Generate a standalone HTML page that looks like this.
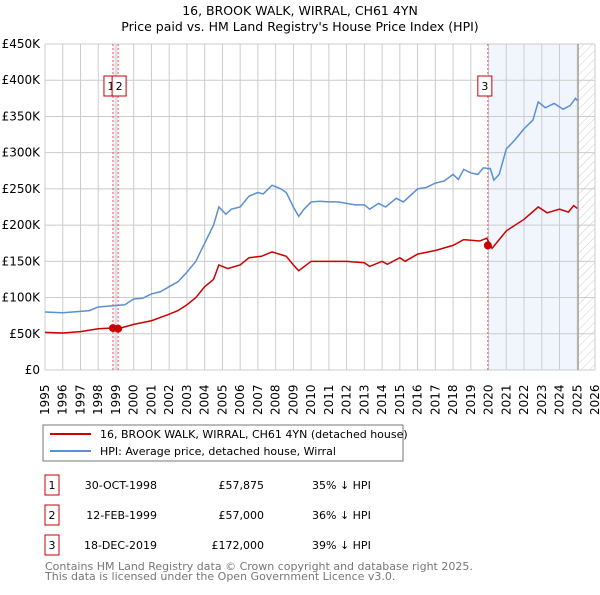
<!DOCTYPE html>
<html><head><meta charset="utf-8"><style>
body{margin:0;background:#fff;font-family:"Liberation Sans","DejaVu Sans",sans-serif;}
svg text{font-family:"DejaVu Sans","Liberation Sans",sans-serif;}
</style></head><body>
<svg id="c" width="600" height="590" xmlns="http://www.w3.org/2000/svg">
<defs><pattern id="hatch" width="6" height="6" patternUnits="userSpaceOnUse" patternTransform="rotate(45)"><line x1="0" y1="0" x2="0" y2="6" stroke="#ccc" stroke-width="1"/></pattern></defs>
<text x="300" y="15" text-anchor="middle" font-size="12.5">16, BROOK WALK, WIRRAL, CH61 4YN</text>
<text x="300" y="31" text-anchor="middle" font-size="12.5">Price paid vs. HM Land Registry's House Price Index (HPI)</text>
<g id="plot"></g>
<rect x="43" y="425" width="360" height="36" fill="#fff" stroke="#777"/>
<line x1="50" y1="434" x2="91" y2="434" stroke="#cc0000" stroke-width="2"/>
<text x="100" y="438" font-size="11">16, BROOK WALK, WIRRAL, CH61 4YN (detached house)</text>
<line x1="50" y1="451" x2="91" y2="451" stroke="#5b8fd4" stroke-width="2"/>
<text x="100" y="455" font-size="11">HPI: Average price, detached house, Wirral</text>
<g font-size="11">
<rect x="45" y="475" width="14" height="20" fill="none" stroke="#cc0000"/><text x="52" y="489" text-anchor="middle">1</text>
<text x="157" y="489" text-anchor="end">30-OCT-1998</text><text x="264" y="489" text-anchor="end">£57,875</text><text x="312" y="489">35% ↓ HPI</text>
<rect x="45" y="505" width="14" height="20" fill="none" stroke="#cc0000"/><text x="52" y="519" text-anchor="middle">2</text>
<text x="157" y="519" text-anchor="end">12-FEB-1999</text><text x="264" y="519" text-anchor="end">£57,000</text><text x="312" y="519">36% ↓ HPI</text>
<rect x="45" y="535" width="14" height="20" fill="none" stroke="#cc0000"/><text x="52" y="549" text-anchor="middle">3</text>
<text x="157" y="549" text-anchor="end">18-DEC-2019</text><text x="264" y="549" text-anchor="end">£172,000</text><text x="312" y="549">39% ↓ HPI</text>
</g>
<text x="45" y="570" font-size="11" fill="#777">Contains HM Land Registry data © Crown copyright and database right 2025.</text>
<text x="45" y="580" font-size="11" fill="#777">This data is licensed under the Open Government Licence v3.0.</text>
</svg>
<script>
const hpiYears=[1995,1996,1997,1997.5,1998,1999,1999.5,2000,2000.5,2001,2001.5,2002,2002.5,2003,2003.5,2004,2004.5,2004.8,2005.2,2005.5,2006,2006.5,2007,2007.3,2007.8,2008.3,2008.6,2009,2009.3,2009.6,2010,2010.5,2011,2011.5,2012,2012.5,2013,2013.3,2013.8,2014.2,2014.8,2015.2,2016,2016.5,2017,2017.5,2018,2018.3,2018.6,2019,2019.4,2019.7,2020.1,2020.3,2020.6,2021,2021.5,2022,2022.5,2022.8,2023.2,2023.7,2024.2,2024.6,2024.9,2025];
const hpiValues=[80,79,81,82,87,89,90,98,99,105,108,115,122,135,150,175,200,225,215,222,225,240,245,243,255,250,245,225,212,222,232,233,232,232,230,228,228,222,230,225,237,232,250,252,258,261,270,263,277,272,270,279,278,262,270,305,318,333,345,370,362,368,360,365,375,372];
const propYears=[1995,1996,1997,1998,1998.83,1999.12,2000,2001,2002,2002.5,2003,2003.5,2004,2004.5,2004.8,2005.3,2006,2006.5,2007.2,2007.8,2008.6,2009,2009.3,2010,2011,2012,2013,2013.3,2014,2014.3,2015,2015.3,2016,2017,2018,2018.6,2019.5,2019.9,2020.2,2020.6,2021,2022,2022.8,2023.3,2024,2024.5,2024.8,2025];
const propValues=[52,51,53,57,58,57,63,68,77,82,90,100,115,125,145,140,145,155,157,163,157,145,137,150,150,150,148,143,150,146,155,150,160,165,172,180,178,182,168,180,192,208,225,217,222,218,227,223];
const saleYears=[1998.83,1999.12,2019.96];
const saleValues=[57875,57000,172000];
const saleLabels=["1","2","3"];
const yTicks=[0,50,100,150,200,250,300,350,400,450];
const yTickLabels=["£0","£50K","£100K","£150K","£200K","£250K","£300K","£350K","£400K","£450K"];
const xTicks=[1995,1996,1997,1998,1999,2000,2001,2002,2003,2004,2005,2006,2007,2008,2009,2010,2011,2012,2013,2014,2015,2016,2017,2018,2019,2020,2021,2022,2023,2024,2025,2026];
const X0=45,X1=595,Y0=370,Y1=44;
const sx=y=>X0+(y-1995)/(2026-1995)*(X1-X0);
const sy=v=>Y0-v/450*(Y0-Y1);
const g=document.getElementById('plot');const NS='http://www.w3.org/2000/svg';
function mk(t,a){const e=document.createElementNS(NS,t);for(const k in a)e.setAttribute(k,a[k]);g.appendChild(e);return e;}
let e;
e=mk('rect',{x:sx(saleYears[0]),y:Y1,width:sx(saleYears[1])-sx(saleYears[0]),height:Y0-Y1,fill:'#eef2fb'});


e=mk('rect',{x:sx(saleYears[2]),y:Y1,width:sx(2025.05)-sx(saleYears[2]),height:Y0-Y1,fill:'#f1f5fd'});


e=mk('rect',{x:sx(2025.05),y:Y1,width:X1-sx(2025.05),height:Y0-Y1,fill:'url(#hatch)'});


xTicks.forEach(t=>{e=mk('line',{x1:sx(t),x2:sx(t),y1:Y1,y2:Y0,stroke:'#ccc'});


e=mk('text',{x:0,y:0,'font-size':12,transform:`translate(${sx(t)+4},${Y0+45}) rotate(-90)`});e.textContent=t;

});
yTicks.forEach((t,i)=>{e=mk('line',{x1:X0,x2:X1,y1:sy(t),y2:sy(t),stroke:'#ccc'});


e=mk('text',{x:40,y:sy(t)+4,'font-size':12,'text-anchor':'end'});e.textContent=yTickLabels[i];

});
e=mk('line',{x1:sx(2025.05),x2:sx(2025.05),y1:Y1,y2:Y0,stroke:'#888'});


saleYears.forEach((y,i)=>{e=mk('line',{x1:sx(y),x2:sx(y),y1:Y1,y2:Y0,stroke:'#e55','stroke-dasharray':'2,2'});

});
e=mk('polyline',{points:hpiYears.map((y,i)=>sx(y)+','+sy(hpiValues[i])).join(' '),fill:'none',stroke:'#5b8fd4','stroke-width':1.5});


e=mk('polyline',{points:propYears.map((y,i)=>sx(y)+','+sy(propValues[i])).join(' '),fill:'none',stroke:'#cc0000','stroke-width':1.5});


saleYears.forEach((y,i)=>{e=mk('circle',{cx:sx(y),cy:sy(saleValues[i]/1000),r:4,fill:'#cc0000'});


const bx=i==0?sx(y)-9:(i==1?sx(y)-6:sx(y)-10);
e=mk('rect',{x:bx,y:76,width:14,height:20,fill:'#fff',stroke:'#cc0000'});


e=mk('text',{x:bx+7,y:90,'font-size':11,'text-anchor':'middle'});e.textContent=saleLabels[i];

});
</script>
</body></html>
